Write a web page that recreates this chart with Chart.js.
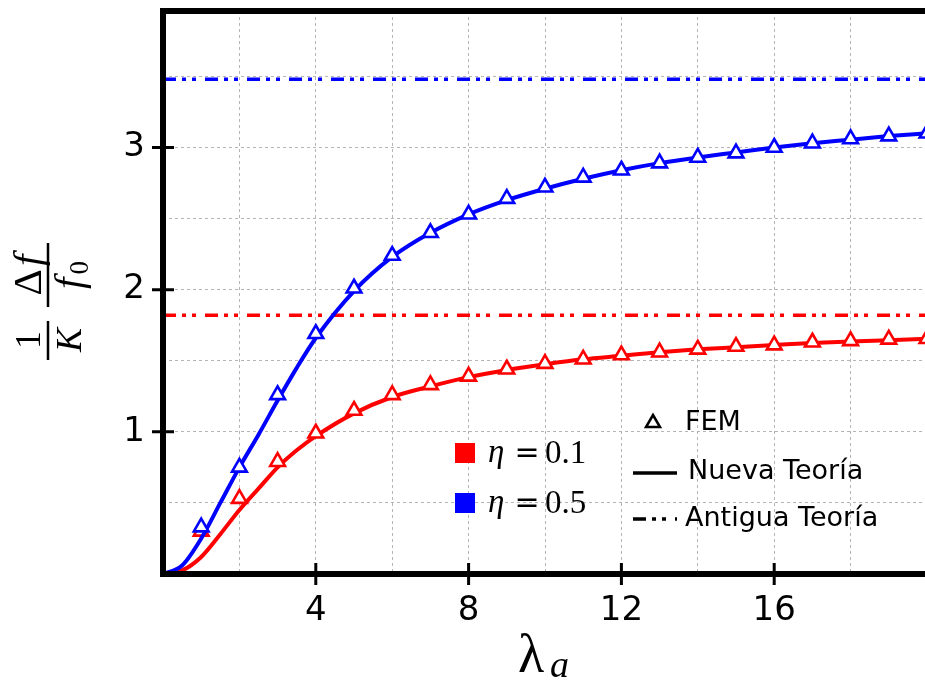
<!DOCTYPE html>
<html>
<head>
<meta charset="utf-8">
<script src="https://cdn.jsdelivr.net/npm/chart.js@4.4.1/dist/chart.umd.min.js"></script>
<style>
  html, body { margin: 0; padding: 0; background: #fff; overflow: hidden; }
  #wrap { position: relative; width: 928px; height: 680px; }
</style>
</head>
<body>
<div id="wrap"><canvas id="chart"></canvas></div>
<script>
// λa sample points for the continuous curves (Nueva Teoría)
const curveLambda = [0, 0.5, 1, 1.5, 2, 2.5, 3, 3.5, 4, 5, 6, 7, 8, 9, 10, 11, 12, 13, 14, 15, 16, 17, 18, 19, 20];
const newTheoryEta01 = [0, 0.025, 0.12, 0.28, 0.45, 0.60, 0.75, 0.87, 0.97, 1.13, 1.245, 1.32, 1.385, 1.435, 1.475, 1.51, 1.535, 1.56, 1.58, 1.595, 1.61, 1.625, 1.635, 1.645, 1.655];
const newTheoryEta05 = [0, 0.06, 0.25, 0.50, 0.75, 0.98, 1.22, 1.45, 1.66, 1.99, 2.23, 2.40, 2.53, 2.63, 2.71, 2.78, 2.84, 2.89, 2.93, 2.965, 3.00, 3.03, 3.055, 3.08, 3.10];

// FEM results
const femLambda = [1, 2, 3, 4, 5, 6, 7, 8, 9, 10, 11, 12, 13, 14, 15, 16, 17, 18, 19, 20];
const femEta01 = [0.30, 0.53, 0.79, 0.99, 1.15, 1.26, 1.33, 1.39, 1.44, 1.48, 1.51, 1.54, 1.56, 1.58, 1.60, 1.61, 1.63, 1.64, 1.65, 1.655];
const femEta05 = [0.33, 0.75, 1.26, 1.69, 2.01, 2.24, 2.40, 2.53, 2.64, 2.72, 2.79, 2.84, 2.89, 2.93, 2.96, 3.00, 3.03, 3.06, 3.08, 3.10];

// Antigua Teoría (constant levels)
const oldTheoryEta01 = 1.82;
const oldTheoryEta05 = 3.48;

// axis ranges and labelled ticks
const xRange = [0, 20];
const yRange = [0, 3.96];
const xTickLabels = [4, 8, 12, 16];
const yTickLabels = [1, 2, 3];

const RED = '#ff0000';
const BLUE = '#0000ff';
const OLD_DASH = [13, 6, 4, 6, 4, 9];

const pts = (xs, ys) => xs.map((x, i) => ({ x: x, y: ys[i] }));
const flat = (v) => [{ x: xRange[0], y: v }, { x: xRange[1], y: v }];

// draw a run of text pieces left to right, centred on cx
function drawRun(ctx, parts, cx, baseline) {
  let total = 0;
  parts.forEach(p => { ctx.font = p.font; p.w = ctx.measureText(p.t).width; total += p.w + (p.gap || 0); });
  let x = cx - total / 2;
  ctx.textAlign = 'left';
  parts.forEach(p => {
    ctx.font = p.font;
    ctx.fillText(p.t, x, baseline + (p.dy || 0));
    x += p.w + (p.gap || 0);
  });
}

// spines, crossing ticks, axis titles and legend
const decorations = {
  id: 'decorations',
  afterDatasetsDraw(chart) {
    const { ctx, chartArea: a, scales: { x, y } } = chart;
    ctx.save();
    ctx.strokeStyle = '#000';
    ctx.fillStyle = '#000';

    // spines (right one falls outside the picture)
    ctx.lineWidth = 6;
    ctx.lineJoin = 'miter';
    ctx.beginPath();
    ctx.moveTo(a.right + 6, a.top);
    ctx.lineTo(a.left, a.top);
    ctx.lineTo(a.left, a.bottom);
    ctx.lineTo(a.right + 6, a.bottom);
    ctx.stroke();

    // ticks crossing the spines
    ctx.lineWidth = 3;
    ctx.beginPath();
    xTickLabels.forEach(v => {
      const px = x.getPixelForValue(v);
      ctx.moveTo(px, a.bottom - 11);
      ctx.lineTo(px, a.bottom + 11);
    });
    yTickLabels.forEach(v => {
      const py = y.getPixelForValue(v);
      ctx.moveTo(a.left - 11, py);
      ctx.lineTo(a.left + 11, py);
    });
    ctx.stroke();

    // x title  λ_a
    ctx.textBaseline = 'alphabetic';
    ctx.textAlign = 'left';
    ctx.font = '54px "Liberation Serif"';
    ctx.fillText('λ', 518, 672);
    ctx.font = 'italic 38px "Liberation Serif"';
    ctx.fillText('a', 550, 677);

    // y title  (1/K)(Δf/f0), rotated
    ctx.save();
    ctx.translate(48, 300);
    ctx.rotate(-Math.PI / 2);
    ctx.lineWidth = 2.5;
    ctx.beginPath();
    ctx.moveTo(-60, 0); ctx.lineTo(-21, 0);
    ctx.moveTo(-7, 0); ctx.lineTo(57, 0);
    ctx.stroke();
    drawRun(ctx, [{ t: '1', font: '36px "Liberation Serif"' }], -40, -8);
    drawRun(ctx, [{ t: 'K', font: 'italic 36px "Liberation Serif"' }], -40, 33);
    drawRun(ctx, [
      { t: 'Δ', font: '41px "Liberation Serif"', gap: 3 },
      { t: 'f', font: 'italic 41px "Liberation Serif"' }
    ], 25, -7);
    drawRun(ctx, [
      { t: 'f', font: 'italic 41px "Liberation Serif"', gap: 3 },
      { t: '0', font: '27px "Liberation Serif"', dy: 6 }
    ], 25, 34);
    ctx.restore();

    // legend: η swatches
    ctx.textBaseline = 'alphabetic';
    [[RED, '0.1', 443], [BLUE, '0.5', 493]].forEach(([c, v, top]) => {
      ctx.fillStyle = c;
      ctx.fillRect(455, top, 20, 20);
      ctx.fillStyle = '#000';
      ctx.textAlign = 'left';
      ctx.font = 'italic 33px "Liberation Serif"';
      ctx.fillText('η', 488, top + 19);
      ctx.font = '30px "DejaVu Sans"';
      ctx.textAlign = 'center';
      ctx.fillText('=', 527, top + 19);
      ctx.textAlign = 'left';
      ctx.font = '33px "Liberation Serif"';
      ctx.fillText(v, 545, top + 20);
    });

    // legend: line styles
    ctx.strokeStyle = '#000';
    ctx.fillStyle = '#000';
    ctx.lineWidth = 2.5;
    ctx.beginPath();
    ctx.moveTo(653, 415); ctx.lineTo(660, 427); ctx.lineTo(646, 427); ctx.closePath();
    ctx.stroke();
    ctx.lineWidth = 3.5;
    ctx.beginPath();
    ctx.moveTo(633, 473); ctx.lineTo(677, 473);
    ctx.stroke();
    ctx.setLineDash(OLD_DASH);
    ctx.beginPath();
    ctx.moveTo(633, 519); ctx.lineTo(677, 519);
    ctx.stroke();
    ctx.setLineDash([]);
    ctx.font = '27px "DejaVu Sans"';
    ctx.textAlign = 'left';
    ctx.textBaseline = 'middle';
    ctx.fillText('FEM', 685, 423);
    ctx.fillText('Nueva Teoría', 688, 472);
    ctx.fillText('Antigua Teoría', 685, 519);

    ctx.restore();
  }
};

const tickFont = { family: 'DejaVu Sans', size: 34 };

new Chart(document.getElementById('chart'), {
  type: 'line',
  data: {
    datasets: [
      { data: pts(femLambda, femEta05), showLine: false, pointStyle: 'triangle', pointRadius: 8.5,
        borderColor: BLUE, backgroundColor: '#fff', pointBorderWidth: 2.6, order: 1, clip: false },
      { data: pts(curveLambda, newTheoryEta05), borderColor: BLUE, borderWidth: 4, pointRadius: 0,
        cubicInterpolationMode: 'monotone', order: 2 },
      { data: pts(femLambda, femEta01), showLine: false, pointStyle: 'triangle', pointRadius: 8.5,
        borderColor: RED, backgroundColor: '#fff', pointBorderWidth: 2.6, order: 3, clip: false },
      { data: pts(curveLambda, newTheoryEta01), borderColor: RED, borderWidth: 4, pointRadius: 0,
        cubicInterpolationMode: 'monotone', order: 4 },
      { data: flat(oldTheoryEta05), borderColor: BLUE, borderWidth: 3.5, borderDash: OLD_DASH, pointRadius: 0, order: 5 },
      { data: flat(oldTheoryEta01), borderColor: RED, borderWidth: 3.5, borderDash: OLD_DASH, pointRadius: 0, order: 6 }
    ]
  },
  options: {
    responsive: true,
    maintainAspectRatio: false,
    animation: false,
    layout: { autoPadding: false, padding: { top: 11, right: 1, left: 0, bottom: 0 } },
    plugins: { legend: { display: false }, tooltip: { enabled: false } },
    scales: {
      x: {
        type: 'linear',
        min: xRange[0], max: xRange[1],
        afterFit: (s) => { s.height = 106; s.paddingLeft = 0; s.paddingRight = 0; },
        border: { display: false, dash: [3, 3] },
        grid: { color: '#b5b5b5', lineWidth: 1, drawTicks: false },
        ticks: {
          stepSize: 2, includeBounds: false, autoSkip: false, maxRotation: 0,
          color: '#000', font: tickFont, padding: 17,
          callback: (v) => xTickLabels.includes(v) ? String(v) : ''
        }
      },
      y: {
        type: 'linear',
        min: yRange[0], max: yRange[1],
        afterFit: (s) => { s.width = 163; s.paddingTop = 0; s.paddingBottom = 0; },
        border: { display: false, dash: [3, 3] },
        grid: { color: '#b5b5b5', lineWidth: 1, drawTicks: false },
        ticks: {
          stepSize: 0.5, includeBounds: false, autoSkip: false,
          color: '#000', font: tickFont, padding: 18,
          callback: (v) => yTickLabels.includes(v) ? String(v) : ''
        }
      }
    }
  },
  plugins: [decorations]
});
</script>
</body>
</html>
